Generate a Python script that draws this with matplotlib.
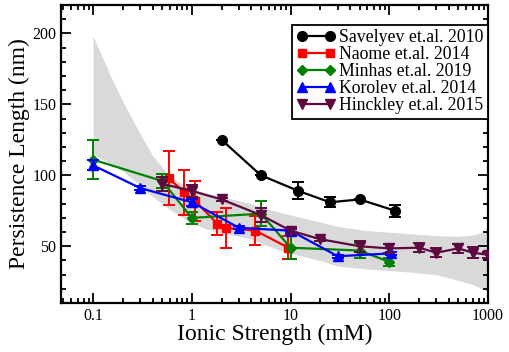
import matplotlib
matplotlib.use("Agg")
import matplotlib.pyplot as plt
from matplotlib.lines import Line2D
from matplotlib.ticker import MultipleLocator, LogLocator, NullFormatter, FixedLocator, FixedFormatter

plt.rcParams['font.family'] = ['Liberation Serif', 'DejaVu Serif']

# --- data ---
sav_x = [2, 5, 12, 25, 50, 115]
sav_y = [125, 100, 89, 81, 83, 75]
sav_e = [0, 0, 6, 3.5, 0, 4.4]

nao_x = [0.58, 0.84, 1.08, 1.8, 2.2, 4.4, 9.5]
nao_y = [98, 88, 82, 66, 63, 61, 49]
nao_e = [19, 16, 14, 8, 14, 10, 8]

min_x = [0.1, 0.5, 1.0, 5.0, 10, 50, 100]
min_y = [111, 96, 70, 73, 49, 47, 39]
min_e = [13.6, 5, 4, 9, 8, 5, 3]

kor_x = [0.1, 0.3, 1.0, 3.0, 10, 30, 105]
kor_y = [107, 91, 81, 63, 61, 43, 45]
kor_e = [3.5, 1.5, 2.5, 1, 1, 1, 1]

hin_x = [0.5, 1, 2, 5, 10, 20, 50, 100, 200, 300, 500, 700, 1000]
hin_y = [94, 89, 83, 72, 61, 55, 50, 48.5, 49, 45.5, 48.5, 45.5, 44]
hin_e = [5, 4, 1, 5, 2, 1, 4, 3, 3, 3, 3, 4, 2]

band_x = [0.1, 0.15, 0.2, 0.3, 0.4, 0.6, 0.9, 1.3, 2, 3, 4, 6, 10, 20, 30, 60, 150, 300, 500, 700, 1000]
band_hi = [198, 170, 152, 129, 114, 99, 92, 88, 85, 82, 80, 76, 72, 67, 64, 61, 59, 57.5, 57, 58, 61]
band_lo = [115, 108, 103, 93, 85, 76, 68, 63, 59, 57, 55, 50, 45, 40, 36, 34, 32, 30, 26, 23, 18]

fig = plt.figure(figsize=(5.1, 3.52), dpi=100)
ax = fig.add_axes([0.12, 0.139, 0.837, 0.847])

ax.fill_between(band_x, band_lo, band_hi, color='#d9d9d9', lw=0, zorder=1)

series = [
    (sav_x, sav_y, sav_e, 'black', 'o', 7, 'Savelyev et.al. 2010'),
    (nao_x, nao_y, nao_e, '#ff0000', 's', 6, 'Naome et.al. 2014'),
    (min_x, min_y, min_e, '#008000', 'D', 5, 'Minhas et.al. 2019'),
    (kor_x, kor_y, kor_e, '#0000ff', '^', 6.5, 'Korolev et.al. 2014'),
    (hin_x, hin_y, hin_e, '#5c0a40', 'v', 7, 'Hinckley et.al. 2015'),
]
handles = []
for i, (x, y, e, c, m, ms, lab) in enumerate(series):
    ax.errorbar(x, y, yerr=e, color=c, marker=m, ms=ms, lw=1.6, elinewidth=1.4,
                capsize=4, capthick=1.4, zorder=3 + i)
    handles.append(Line2D([], [], color=c, marker=m, ms=ms, lw=1.6, label=lab))

ax.set_xscale('log')
ax.set_xlim(0.0475, 1000)
ax.set_ylim(10, 220)

ax.xaxis.set_major_locator(FixedLocator([0.1, 1, 10, 100, 1000]))
ax.xaxis.set_major_formatter(FixedFormatter(['0.1', '1', '10', '100', '1000']))
ax.xaxis.set_minor_locator(LogLocator(base=10, subs=range(2, 10), numticks=20))
ax.xaxis.set_minor_formatter(NullFormatter())
ax.yaxis.set_major_locator(MultipleLocator(50))
ax.yaxis.set_minor_locator(MultipleLocator(10))

ax.tick_params(which='both', direction='in', top=True, right=True, width=1.3, labelsize=11.5)
ax.tick_params(which='major', length=7)
ax.tick_params(which='minor', length=3.5)
for s in ax.spines.values():
    s.set_linewidth(1.6)

ax.set_xlabel('Ionic Strength (mM)', fontsize=17, labelpad=0)
ax.set_ylabel('Persistence Length (nm)', fontsize=17, labelpad=2)

leg = ax.legend(handles=handles, loc='upper right', bbox_to_anchor=(1.0, 0.933),
                borderaxespad=0.0, fontsize=12.8, numpoints=2, handlelength=2.2,
                labelspacing=0.0, handletextpad=0.2, borderpad=0.25, fancybox=False,
                framealpha=1, edgecolor='black')
leg.get_frame().set_linewidth(1.3)

fig.savefig('out.png', dpi=100)
